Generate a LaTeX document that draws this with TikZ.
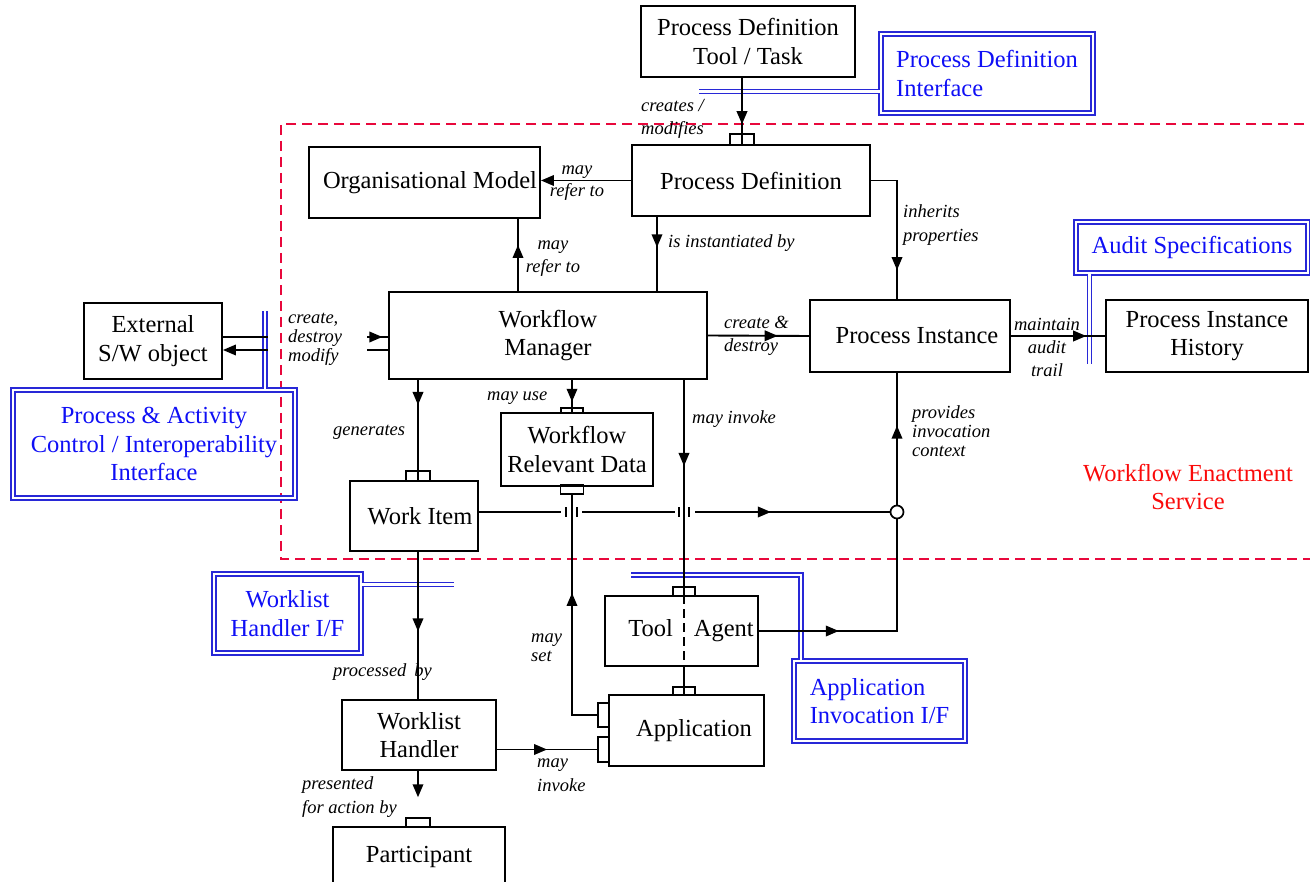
\documentclass[tikz,border=0pt]{standalone}
\usepackage{fontspec}
\setmainfont{Liberation Serif}
\usetikzlibrary{arrows.meta,decorations.markings}
\definecolor{ifblue}{RGB}{40,40,215}
\definecolor{iftext}{RGB}{15,15,245}
\definecolor{wesred}{RGB}{232,8,60}
\definecolor{westext}{RGB}{250,10,10}
\newcommand{\boxfont}{\fontsize{24.5}{28.5}\selectfont}
\newcommand{\lblfont}{\fontsize{18.5}{22}\selectfont\itshape}
\begin{document}
\begin{tikzpicture}[x=1pt,y=-1pt,
  box/.style={draw, line width=1.9pt, inner sep=0pt, align=center, font=\boxfont},
  ifbox/.style={draw=ifblue, double=white, double distance=2.6pt, line width=1.4pt,
    inner sep=0pt, text=iftext, font=\boxfont},
  port/.style={draw, line width=1.5pt, inner sep=0pt},
  wire/.style={line width=1.9pt},
  tip/.style={-{Triangle[length=13pt,width=10.5pt]}},
  arrowat/.style={postaction={decorate}, decoration={markings,
    mark=at position #1 with {\arrow{Triangle[length=13pt,width=10.5pt]}}}},
  ifline/.style={draw=ifblue, double=white, double distance=2.4pt, line width=1.4pt},
  lbl/.style={font=\lblfont, inner sep=0pt},
  bridgetick/.style={line width=1.7pt},
]
\useasboundingbox (0,0) rectangle (1310,882);

% enactment service boundary
\draw[wesred, line width=2.9pt, dash pattern=on 10pt off 6pt]
  (1320,124) -- (281,124) -- (281,559) -- (1320,559);
\node[font=\boxfont, text=westext, align=center, inner sep=0pt] (wes) at (1188,487)
  {Workflow Enactment\\Service};

% main boxes
\node[box, minimum width=214pt, minimum height=71pt] (pdtool) at (748,41.5) {Process Definition\\Tool / Task};
\node[box, minimum width=238pt, minimum height=71pt] (pd) at (751,180.5) {Process Definition};
\node[box, minimum width=231pt, minimum height=71pt] (org) at (424.5,182.5) {\hspace*{11pt}Organisational Model};
\node[box, minimum width=318pt, minimum height=87pt] (wm) at (548,335.5) {Workflow\\Manager};
\node[box, minimum width=138pt, minimum height=76pt] (ext) at (153,341) {External\\S/W object};
\node[box, minimum width=200pt, minimum height=72pt] (pi) at (910,336) {\hspace*{14pt}Process Instance};
\node[box, minimum width=202pt, minimum height=72pt] (pih) at (1207,336) {Process Instance\\History};
\node[box, minimum width=128pt, minimum height=70pt] (wi) at (414,516) {\hspace*{12pt}Work Item};
\node[box, minimum width=152pt, minimum height=73pt] (wrd) at (577,449.5) {Workflow\\Relevant Data};
\node[box, minimum width=153pt, minimum height=70pt] (ta) at (681.5,631) {\hspace*{19pt}Tool\hspace{21pt}Agent};
\node[box, minimum width=155pt, minimum height=71pt] (app) at (686.5,730.5) {\hspace*{15pt}Application};
\node[box, minimum width=154pt, minimum height=70pt] (wh) at (419,735) {Worklist\\Handler};
\node[box, minimum width=172pt, minimum height=60pt] (part) at (419,857) {Participant};

% ports
\node[port, minimum width=24pt, minimum height=11pt] (pdp) at (742,139.5) {};
\node[port, minimum width=24pt, minimum height=10pt] (wip) at (418,476) {};
\node[port, minimum width=22pt, minimum height=5pt] (wrdt) at (572,410.5) {};
\node[port, minimum width=23pt, minimum height=9pt] (wrdb) at (572,489.5) {};
\node[port, minimum width=22pt, minimum height=9pt] (tap) at (684,591.5) {};
\node[port, minimum width=22pt, minimum height=8pt] (appt) at (684,691) {};
\node[port, minimum width=11pt, minimum height=24pt] (appu) at (603.5,715) {};
\node[port, minimum width=11pt, minimum height=25pt] (appl) at (603.5,749.5) {};
\node[port, minimum width=24pt, minimum height=9pt] (partp) at (418,822.5) {};

% interface boxes
\node[ifbox, minimum width=212pt, minimum height=79pt, align=left] (pdi) at (987,73.5) {Process Definition\\Interface};
\node[ifbox, minimum width=232pt, minimum height=51pt] (audit) at (1192,247.5) {Audit Specifications};
\node[ifbox, minimum width=282pt, minimum height=108pt, align=center] (paci) at (154,444)
  {Process \& Activity\\Control / Interoperability\\Interface};
\node[ifbox, minimum width=147pt, minimum height=79pt, align=center] (whif) at (287.5,613.5) {Worklist\\Handler I/F};
\node[ifbox, minimum width=171pt, minimum height=80pt, align=left] (aif) at (879.5,701) {Application\\Invocation I/F};

% interface links
\coordinate (pdiend) at (699,91.5);
\draw[ifline] (pdiend) -- (pdiend -| pdi.west);
\coordinate (extif) at (265,311);
\draw[ifline] (extif) -- (extif |- paci.north);
\coordinate (audend) at (1089.5,364);
\draw[ifline] (audit.south -| audend) -- (audend);
\coordinate (whifend) at (454,584.5);
\draw[ifline] (whifend -| whif.east) -- (whifend);
\coordinate (aifend) at (631,575);
\coordinate (aifx) at (801,0);
\draw[ifline] (aifend) -| (aifx |- aif.north);

% column / row positions of connectors
\coordinate (ihx) at (897,0);
\coordinate (instx) at (657,0);
\coordinate (refx) at (518,0);
\coordinate (genx) at (418,0);
\coordinate (usex) at (572,0);
\coordinate (invx) at (684,0);
\coordinate (ytop) at (0,337);
\coordinate (ybot) at (0,350);
\coordinate (gapl) at (268,0);
\coordinate (gapr) at (367,0);
\coordinate (flowy) at (0,512);

% process definition relations
\draw[wire, arrowat=0.7] (pdtool.south -| pdp) -- (pd.north -| pdp);
\draw[wire, tip] (pd.west) -- (pd.west -| org.east);
\draw[wire, arrowat=0.8] (pd.east) -| (ihx |- pi.north);
\draw[wire, arrowat=0.41] (instx |- pd.south) -- (instx |- wm.north);
\draw[wire, arrowat=0.64] (refx |- wm.north) -- (refx |- org.south);

% external object
\draw[wire] (ext.east |- ytop) -- (gapl |- ytop);
\draw[wire, arrowat=0.73] (gapr |- ytop) -- (wm.west |- ytop);
\draw[wire] (wm.west |- ybot) -- (gapr |- ybot);
\draw[wire, tip] (gapl |- ybot) -- (ext.east |- ybot);

% instances and history
\draw[wire, arrowat=0.69] (wm.east) -- (pi.west);
\draw[wire, arrowat=0.8] (pi.east) -- (pih.west);

% manager to work item, data and tools
\draw[wire, arrowat=0.25] (genx |- wm.south) -- (genx |- wi.north);
\draw[wire, arrowat=0.54] (genx |- wi.south) -- (genx |- wh.north);
\draw[wire, arrowat=0.68] (usex |- wm.south) -- (usex |- wrd.north);
\draw[wire, arrowat=0.4] (invx |- wm.south) -- (invx |- ta.north);
\draw[wire, dash pattern=on 9pt off 5pt] (invx |- ta.north) -- (invx |- ta.south);
\draw[wire] (invx |- ta.south) -- (invx |- app.north);

% invocation context junction
\node[circle, draw, line width=1.7pt, minimum size=13pt, inner sep=0pt] (junc) at (897,512) {};
\coordinate (br1a) at (561,512);
\coordinate (br1b) at (582,512);
\coordinate (br2a) at (675,512);
\coordinate (br2b) at (695,512);
\draw[wire] (wi.east |- flowy) -- (br1a);
\draw[wire] (br1b) -- (br2a);
\draw[wire, arrowat=0.39] (br2b) -- (junc.west);
\foreach \bx in {566,577,679,689}
  \draw[bridgetick] (\bx,507.5) -- (\bx,516.5);
\draw[wire, arrowat=0.6] (junc.north) -- (junc |- pi.south);
\draw[wire, arrowat=0.32] (ta.east) -| (junc.south);

% application side
\draw[wire, arrowat=0.6] (appu.west) -| (wrdb.south);
\draw[wire, arrowat=0.5] (wh.east |- appl) -- (appl.west);
\draw[wire, tip] (genx |- wh.south) -- ([yshift=20pt]partp.north);

% connector labels
\node[lbl, anchor=west, align=left] (lcm) at (641,119) {creates /\\[1pt]modifies};
\node[lbl, align=center] (lref1) at (577,183) {may\\refer to};
\node[lbl, anchor=west, align=left] (linh) at (903,225) {inherits\\[2pt]properties};
\node[lbl, anchor=west] (linst) at (668,243) {is instantiated by};
\node[lbl, align=center] (lref2) at (553,258.5) {may\\[1pt]refer to};
\node[lbl, anchor=west, align=left] (lcdm) at (288,339) {create,\\[-3pt]destroy\\[-3pt]modify};
\node[lbl, anchor=west, align=left] (lcd) at (724,335.5) {create \&\\[1pt]destroy};
\node[lbl, align=center] (lmat) at (1047,347) {maintain\\[1pt]audit\\[1pt]trail};
\node[lbl, anchor=west, align=left] (lpic) at (912,431) {provides\\[-3pt]invocation\\[-3pt]context};
\node[lbl, anchor=west] (lgen) at (333,432) {generates};
\node[lbl, anchor=west] (luse) at (487,398) {may use};
\node[lbl, anchor=west] (linv) at (692,419) {may invoke};
\node[lbl, anchor=west] (lproc) at (333,672) {processed\hspace{8pt}by};
\node[lbl, anchor=west, align=left] (lpres) at (302,797) {presented\\[2pt]for action by};
\node[lbl, anchor=west, align=left] (linv2) at (537,775) {may\\[2pt]invoke};
\node[lbl, anchor=west, align=left] (lset) at (531,647.5) {may\\[-3pt]set};
\end{tikzpicture}
\end{document}
